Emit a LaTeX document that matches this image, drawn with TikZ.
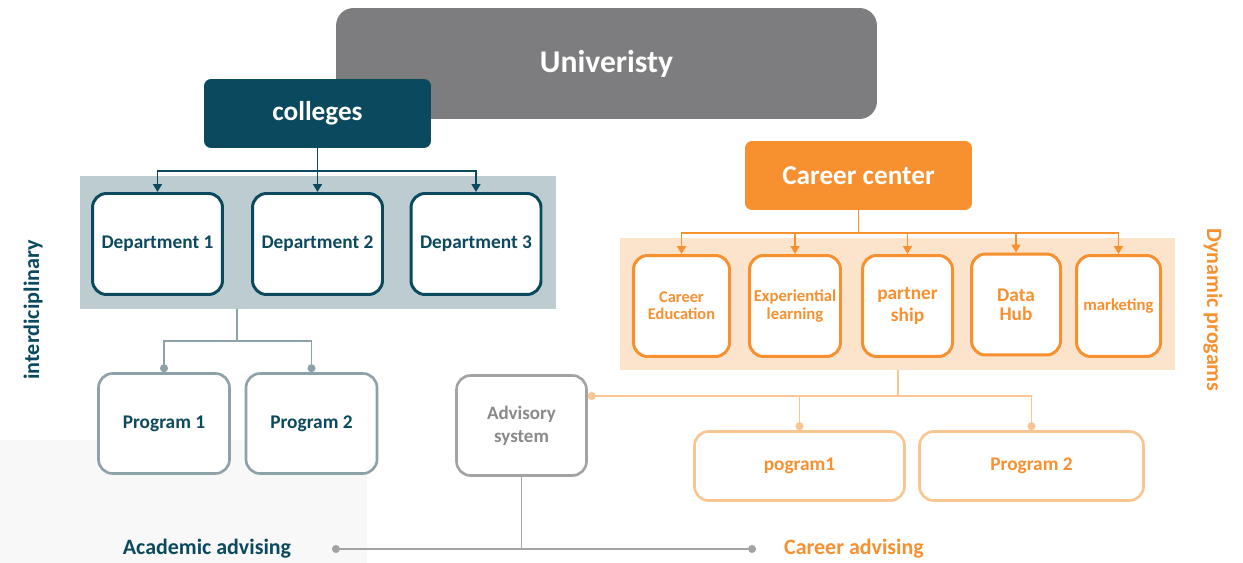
\documentclass[tikz,border=0pt]{standalone}
\usepackage{fontspec}
\setmainfont{Carlito}
\usepackage{tikz}
\usetikzlibrary{arrows.meta}

\definecolor{unigray}{HTML}{7D7D7F}
\definecolor{collteal}{HTML}{0B4A5E}
\definecolor{deptpanelgray}{HTML}{BDCCD0}
\definecolor{progline}{HTML}{8DA1A9}
\definecolor{careerorange}{HTML}{F7902F}
\definecolor{peach}{HTML}{FCE3CC}
\definecolor{lightorange}{HTML}{F9C590}
\definecolor{advgray}{HTML}{A3A3A3}
\definecolor{advtext}{HTML}{8A8A8A}
\definecolor{bgfaint}{HTML}{F8F8F8}

\tikzset{
  headbox/.style={rounded corners=4pt, inner sep=0pt, text=white,
    font=\bfseries\fontsize{15.5}{17}\selectfont, minimum width=4.54cm, minimum height=1.38cm},
  deptbox/.style={draw=collteal, line width=1.7pt, fill=white, rounded corners=8pt,
    text=collteal, font=\bfseries\fontsize{11}{13}\selectfont,
    minimum width=2.6cm, minimum height=2.02cm},
  progbox/.style={draw=progline, line width=1.5pt, fill=white, rounded corners=8pt,
    text=collteal, font=\bfseries\fontsize{11}{13}\selectfont,
    minimum width=2.62cm, minimum height=2cm},
  ccbox/.style={draw=careerorange, line width=1.7pt, fill=white, rounded corners=8pt,
    text=careerorange, align=center, inner sep=1pt, minimum height=2.02cm},
  pogbox/.style={draw=lightorange, line width=1.5pt, fill=white, rounded corners=8pt,
    text=careerorange, font=\bfseries\fontsize{11}{13}\selectfont, minimum height=1.38cm},
  tealline/.style={draw=collteal, line width=1.1pt},
  orangeline/.style={draw=careerorange, line width=1.1pt},
  downtip/.style={-{Triangle[length=4.5pt,width=5pt]}},
  dotend/.style={-{Circle[length=4.5pt]}}
}

\begin{document}
\begin{tikzpicture}[x=0.02cm, y=-0.02cm]

\fill[white] (0,0) rectangle (1243,563);
\fill[bgfaint] (0,440) rectangle (367,563);  % faint backdrop
\useasboundingbox (0,0) rectangle (1243,563);

% top of the tree
\node (uni) at (606.5, 63.5) [fill=unigray, rounded corners=10pt, inner sep=0pt, text=white,
  font=\bfseries\fontsize{18}{20}\selectfont, minimum width=10.82cm, minimum height=2.22cm] {Univeristy};
\node (colleges) at (317.5, 113.5) [headbox, fill=collteal] {colleges};
\node (career) at (858.5, 175.5) [headbox, fill=careerorange] {Career center};

% colleges side
\node (deptpanel) at (318, 242.5) [fill=deptpanelgray, minimum width=9.52cm, minimum height=2.66cm] {};
\node (dept1) at (157.5, 244) [deptbox] {Department 1};
\node (dept2) at (317.5, 244) [deptbox] {Department 2};
\node (dept3) at (476, 244) [deptbox] {Department 3};

\node (prog1) at (164, 423.5) [progbox] {Program 1};
\node (prog2) at (311.5, 423.5) [progbox] {Program 2};

\node (interdisc) at (33, 310) [rotate=90, text=collteal, font=\bfseries\fontsize{12.6}{14}\selectfont] {interdiciplinary};

% career center side
\node (ccpanel) at (897.5, 304) [fill=peach, minimum width=11.1cm, minimum height=2.64cm] {};
\node (careered) at (681.5, 306) [ccbox, minimum width=1.92cm, font=\bfseries\fontsize{9.3}{9.8}\selectfont] {Career\\Education};
\node (explearn) at (795, 306) [ccbox, minimum width=1.82cm, font=\bfseries\fontsize{9.5}{10.5}\selectfont] {Experiential\\learning};
\node (partner) at (907.5, 306) [ccbox, minimum width=1.8cm, font=\bfseries\fontsize{11}{13}\selectfont] {partner\\ship};
\node (datahub) at (1016, 304.5) [ccbox, minimum width=1.78cm, font=\bfseries\fontsize{11}{11}\selectfont] {Data\\Hub};
\node (marketing) at (1118.5, 306) [ccbox, minimum width=1.68cm, font=\bfseries\fontsize{9.5}{11}\selectfont] {marketing};

\node (dynprog) at (1213, 310) [rotate=-90, text=careerorange, font=\bfseries\fontsize{12.5}{14}\selectfont] {Dynamic progams};

\node (advisory) at (521.5, 425.5) [draw=advgray, line width=1.5pt, fill=white, rounded corners=8pt,
  text=advtext, align=center, font=\bfseries\fontsize{10.8}{13}\selectfont,
  minimum width=2.6cm, minimum height=2cm] {Advisory\\system};
\node (pog1) at (799.5, 466) [pogbox, minimum width=4.2cm] {pogram1};
\node (pog2) at (1031.5, 466) [pogbox, minimum width=4.48cm] {Program 2};

\node (acad) at (207, 549) [text=collteal, font=\bfseries\fontsize{12.5}{14}\selectfont] {Academic advising};
\node (caradv) at (854, 549) [text=careerorange, font=\bfseries\fontsize{12.5}{14}\selectfont] {Career advising};

% connectors
\coordinate (colbus) at (317.5, 171);
\draw[tealline] (colleges.south) -- (colbus);
\draw[tealline, downtip] (colbus) -| (dept1.north);
\draw[tealline, downtip] (colbus) -- (dept2.north);
\draw[tealline, downtip] (colbus) -| (dept3.north);

\coordinate (progbus) at (237, 341);
\draw[draw=progline, line width=1.1pt] (progbus |- deptpanel.south) -- (progbus);
\draw[draw=progline, line width=1.1pt, dotend] (progbus) -| (prog1.north);
\draw[draw=progline, line width=1.1pt, dotend] (progbus) -| (prog2.north);

\coordinate (ccbus) at (858.5, 233);
\draw[orangeline] (career.south) -- (ccbus);
\foreach \ccname in {careered, explearn, partner, datahub, marketing}
  \draw[orangeline, downtip] (ccbus) -| (\ccname.north);

\coordinate (dpbus) at (898, 396);
\draw[draw=lightorange, line width=1.1pt] (dpbus |- ccpanel.south) -- (dpbus);
\draw[draw=lightorange, line width=1.1pt, dotend] (dpbus) -- (advisory.east |- dpbus);
\draw[draw=lightorange, line width=1.1pt, dotend] (dpbus) -| (pog1.north);
\draw[draw=lightorange, line width=1.1pt, dotend] (dpbus) -| (pog2.north);

\coordinate (advbus) at (521.5, 549);
\coordinate (acadend) at (332, 549);
\coordinate (careerend) at (756, 549);
\draw[draw=advgray, line width=1.1pt] (advisory.south) -- (advbus);
\draw[draw=advgray, line width=1.1pt, {Circle[length=4.5pt]}-{Circle[length=4.5pt]}] (acadend) -- (careerend);

\end{tikzpicture}
\end{document}
